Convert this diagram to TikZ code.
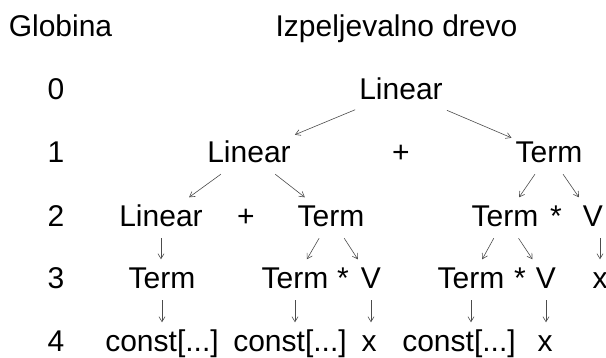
\documentclass[tikz,border=0pt]{standalone}
\usepackage{fontspec}
\setmainfont{Liberation Sans}
\usetikzlibrary{arrows.meta}

\begin{document}
\begin{tikzpicture}[x=1pt,y=-1pt,
    sym/.style={font=\fontsize{30}{36}\selectfont, anchor=base,
      text height=21.5pt, text depth=3pt, inner ysep=8pt, inner xsep=4pt},
    arr/.style={draw=black!70, line width=0.6pt,
      -{Straight Barb[length=5pt,width=6pt]}}]
    \useasboundingbox (0,0) rectangle (606,358);
    % headings
    \node[sym] (glob) at (60.5,37) {Globina};
    \node[sym] (izp) at (396.5,37) {Izpeljevalno drevo};
    % depths
    \foreach \d/\y in {0/100,1/163,2/227,3/289,4/352}
      \node[sym] (d\d) at (56,\y) {\d};
    % tree
    \node[sym] (lin0) at (401,100) {Linear};
    \node[sym] (lin1) at (249,163) {Linear};
    \node[sym] (plus1) at (401,163) {+};
    \node[sym] (term1) at (549,163) {Term};
    \node[sym] (lin2) at (161,227) {Linear};
    \node[sym] (plus2) at (246,227) {+};
    \node[sym] (term2a) at (331,227) {Term};
    \node[sym] (term2b) at (505,227) {Term};
    \node[sym] (star2) at (556,227) {*};
    \node[sym] (v2) at (593,227) {V};
    \node[sym] (term3a) at (162,289) {Term};
    \node[sym] (term3b) at (295,289) {Term};
    \node[sym] (star3b) at (343,289) {*};
    \node[sym] (v3b) at (371,289) {V};
    \node[sym] (term3c) at (471,289) {Term};
    \node[sym] (star3c) at (520,289) {*};
    \node[sym] (v3c) at (546,289) {V};
    \node[sym] (x3) at (600,289) {x};
    \node[sym] (const4a) at (162,352) {const[...]};
    \node[sym] (const4b) at (290,352) {const[...]};
    \node[sym] (x4b) at (369,352) {x};
    \node[sym] (const4c) at (459,352) {const[...]};
    \node[sym] (x4c) at (545,352) {x};
    % derivations
    \draw[arr] (lin0) -- (lin1);
    \draw[arr] (lin0) -- (term1);
    \draw[arr] (lin1) -- (lin2);
    \draw[arr] (lin1) -- (term2a);
    \draw[arr] (term1) -- (term2b);
    \draw[arr] (term1) -- (v2);
    \draw[arr] (lin2) -- (lin2 |- term3a.north);
    \draw[arr] (term2a) -- (term3b);
    \draw[arr] (term2a) -- (v3b);
    \draw[arr] (term2b) -- (term3c);
    \draw[arr] (term2b) -- (v3c);
    \draw[arr] (v2.south -| x3) -- (x3);
    \draw[arr] (term3a) -- (term3a |- const4a.north);
    \draw[arr] (term3b) -- (term3b |- const4b.north);
    \draw[arr] (v3b) -- (v3b |- x4b.north);
    \draw[arr] (term3c) -- (term3c |- const4c.north);
    \draw[arr] (v3c) -- (v3c |- x4c.north);
\end{tikzpicture}
\end{document}
